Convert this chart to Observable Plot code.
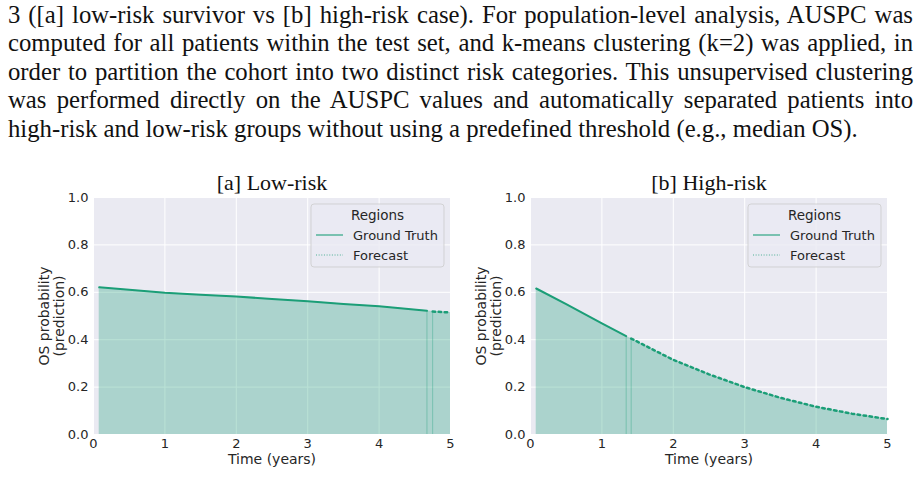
<!DOCTYPE html>
<html><head><meta charset="utf-8">
<script src="https://cdn.jsdelivr.net/npm/d3@7"></script>
<script src="https://cdn.jsdelivr.net/npm/@observablehq/plot@0.6"></script>
<style>
html,body{margin:0;padding:0;background:#fff;}
body{width:919px;height:496px;overflow:hidden;position:relative;}
#text{position:absolute;left:8px;top:1px;width:905px;font-family:"Liberation Serif","Times New Roman",serif;font-size:23px;line-height:28.4px;color:#111;}
#text .j{text-align:justify;text-align-last:justify;}
#text .l{text-align:left;}
#measure{position:absolute;visibility:hidden;white-space:nowrap;font-family:"Liberation Serif","Times New Roman",serif;}
.panel{position:absolute;top:160px;}
</style>
</head><body>
<div id="text"></div>
<span id="measure"></span>
<div id="pa" class="panel" style="left:0px"></div>
<div id="pb" class="panel" style="left:460px"></div>
<script>
// ---- paragraph text ----
const paragraphLines = [
  "3 ([a] low-risk survivor vs [b] high-risk case). For population-level analysis, AUSPC was",
  "computed for all patients within the test set, and k-means clustering (k=2) was applied, in",
  "order to partition the cohort into two distinct risk categories. This unsupervised clustering",
  "was performed directly on the AUSPC values and automatically separated patients into",
  "high-risk and low-risk groups without using a predefined threshold (e.g., median OS)."
];

// ---- chart data ----
const panelTitles = ["[a] Low-risk", "[b] High-risk"];
const xTicks = [0, 1, 2, 3, 4, 5];
const yTicks = [0, 0.2, 0.4, 0.6, 0.8, 1.0];
const xLabel = "Time (years)";
const yLabelLines = ["OS probability", "(prediction)"];
const legendTitle = "Regions";
const legendLabels = ["Ground Truth", "Forecast"];

const lowGtTime = [0.08, 0.5, 1.0, 1.5, 2.0, 2.5, 3.0, 3.5, 4.0, 4.67];
const lowGtOS   = [0.621, 0.611, 0.598, 0.590, 0.582, 0.572, 0.562, 0.551, 0.541, 0.522];
const lowFcTime = [4.75, 5.0];
const lowFcOS   = [0.519, 0.515];

const hiGtTime = [0.08, 0.5, 1.0, 1.34];
const hiGtOS   = [0.616, 0.550, 0.469, 0.415];
const hiFcTime = [1.41, 1.75, 2.0, 2.5, 3.0, 3.5, 4.0, 4.5, 5.0];
const hiFcOS   = [0.405, 0.353, 0.315, 0.254, 0.200, 0.155, 0.117, 0.088, 0.065];

// ---- paragraph (font size chosen so the last line ends near the reference) ----
const tdiv = document.getElementById("text");
const meas = document.getElementById("measure");
meas.style.fontSize = "100px";
const widths = paragraphLines.map(s => { meas.textContent = s; return meas.getBoundingClientRect().width; });
let fs = 850 / widths[widths.length - 1] * 100;
const maxW = Math.max(...widths.slice(0, -1));
fs = Math.min(fs, 900 / maxW * 100);
tdiv.style.fontSize = fs + "px";
paragraphLines.forEach((s, i) => {
  const d = document.createElement("div");
  d.className = i < paragraphLines.length - 1 ? "j" : "l";
  d.textContent = s;
  tdiv.appendChild(d);
});

const TEAL = "#1b9e77";
const SANS = "DejaVu Sans";

function zip(t, v) { return t.map((x, i) => ({t: x, v: v[i]})); }

function makePanel(el, title, gtT, gtV, fcT, fcV, width, mLeft, mRight) {
  const gt = zip(gtT, gtV);
  const fc = zip(fcT, fcV);
  const all = gt.concat(fc);
  const bounds = [gt[gt.length - 1], fc[0]];
  const plot = Plot.plot({
    width, height: 336,
    marginLeft: mLeft, marginRight: mRight, marginTop: 37, marginBottom: 62,
    style: {fontFamily: SANS, fontSize: "13px", background: "transparent", overflow: "visible"},
    x: {domain: [0, 5]},
    y: {domain: [0, 1]},
    marks: [
      Plot.frame({fill: "#EAEAF2", stroke: null}),
      Plot.gridX(xTicks, {stroke: "#ffffff", strokeOpacity: 1, strokeWidth: 1}),
      Plot.gridY(yTicks, {stroke: "#ffffff", strokeOpacity: 1, strokeWidth: 1}),
      Plot.areaY(all, {x: "t", y: "v", fill: TEAL, fillOpacity: 0.3}),
      Plot.ruleX(bounds, {x: "t", y1: 0, y2: "v", stroke: TEAL, strokeOpacity: 0.35, strokeWidth: 1}),
      Plot.line(gt, {x: "t", y: "v", stroke: TEAL, strokeWidth: 2}),
      Plot.line(fc, {x: "t", y: "v", stroke: TEAL, strokeWidth: 2.5, strokeDasharray: "2.5,3.5"}),
      Plot.axisX(xTicks, {tickSize: 0, tickPadding: 4, fontSize: 13, fill: "#262626", label: null}),
      Plot.axisY(yTicks, {tickSize: 0, tickPadding: 5, fontSize: 13, fill: "#262626", tickFormat: d3.format(".1f"), label: null}),
      Plot.text([xLabel], {frameAnchor: "bottom", dy: 25, fontSize: 14, fill: "#262626", lineAnchor: "middle"}),
      Plot.text([yLabelLines[0]], {frameAnchor: "left", dx: -49, rotate: -90, fontSize: 14, fill: "#262626", textAnchor: "middle", lineAnchor: "middle"}),
      Plot.text([yLabelLines[1]], {frameAnchor: "left", dx: -34, rotate: -90, fontSize: 14, fill: "#262626", textAnchor: "middle", lineAnchor: "middle"}),
      Plot.text([title], {frameAnchor: "top", dy: -15, fontSize: 22, fontFamily: "Liberation Serif", fill: "#111", lineAnchor: "middle"})
    ]
  });
  el.appendChild(plot);
  addLegend(plot);
}

function addLegend(svgEl) {
  const svg = d3.select(svgEl);
  const xs = svgEl.scale("x"), ys = svgEl.scale("y");
  const right = xs.range[1], top = ys.range[1];
  const w = 133, h = 63;
  const bx = right - 6 - w, by = top + 7;
  const g = svg.append("g").attr("font-family", SANS).attr("fill", "#262626").attr("text-anchor", "start");
  g.append("rect").attr("x", bx).attr("y", by).attr("width", w).attr("height", h)
    .attr("rx", 3).attr("fill", "#EAEAF2").attr("fill-opacity", 0.8)
    .attr("stroke", "#cccccc").attr("stroke-opacity", 0.8);
  g.append("text").attr("x", bx + w / 2).attr("y", by + 11).attr("dy", "0.36em")
    .attr("text-anchor", "middle").attr("font-size", 13.5).text(legendTitle);
  const rows = [{dash: null, op: 0.9, sw: 1.2}, {dash: "1,1.65", op: 0.75, sw: 1}];
  legendLabels.forEach((lab, i) => {
    const yy = by + 31 + i * 20;
    const ln = g.append("line").attr("x1", bx + 5).attr("x2", bx + 32).attr("y1", yy).attr("y2", yy)
      .attr("stroke", TEAL).attr("stroke-opacity", rows[i].op).attr("stroke-width", rows[i].sw);
    if (rows[i].dash) ln.attr("stroke-dasharray", rows[i].dash);
    g.append("text").attr("x", bx + 42).attr("y", yy).attr("dy", "0.36em")
      .attr("text-anchor", "start").attr("font-size", 13).text(lab);
  });
}

makePanel(document.getElementById("pa"), panelTitles[0], lowGtTime, lowGtOS, lowFcTime, lowFcOS, 460, 93, 10);
makePanel(document.getElementById("pb"), panelTitles[1], hiGtTime, hiGtOS, hiFcTime, hiFcOS, 459, 70, 32);
</script>
</body></html>
